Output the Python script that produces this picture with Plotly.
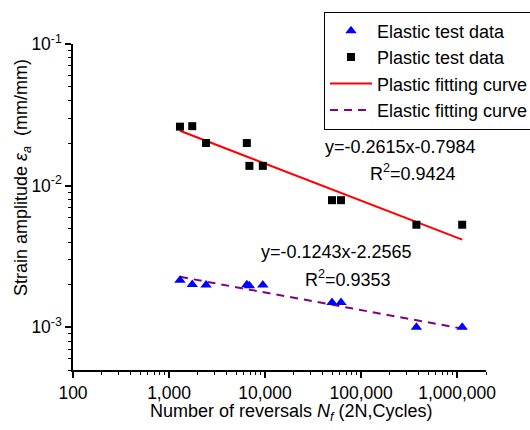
import numpy as np
import plotly.graph_objects as go

# Number of reversals to failure (2N) for each specimen
nf_reversals = [1300, 1745, 2430, 6460, 6870, 9480, 49800, 61800, 377000, 1130000]
# Plastic strain amplitude (mm/mm)
eps_plastic = [0.0261, 0.0263, 0.0200, 0.0200, 0.0138, 0.0138, 0.0079, 0.0079, 0.0053, 0.0053]
# Elastic strain amplitude (mm/mm)
eps_elastic = [0.00215, 0.00201, 0.00199, 0.00200, 0.00197, 0.00199, 0.00150, 0.00150, 0.00100, 0.00100]

# Fitted log-log lines: log10(eps) = slope * log10(2N) + intercept, with R^2
plastic_fit = (-0.2615, -0.7984, 0.9424)
elastic_fit = (-0.1243, -2.2565, 0.9353)

x_tickvals = [100, 1000, 10000, 100000, 1000000]
x_ticktext = ["100", "1,000", "10,000", "100,000", "1,000,000"]
y_tickvals = [0.1, 0.01, 0.001]
y_ticktext = ["10<sup>-1</sup>", "10<sup>-2</sup>", "10<sup>-3</sup>"]

FONT = "Arial, Liberation Sans, sans-serif"


def fit_line(coef):
    slope, intercept, _ = coef
    lx = np.log10([min(nf_reversals), max(nf_reversals)])
    return 10 ** lx, 10 ** (slope * lx + intercept)


fig = go.Figure()

px_, py_ = fit_line(plastic_fit)
fig.add_trace(go.Scatter(x=px_, y=py_, mode="lines", name="Plastic fitting curve",
                         line=dict(color="#ff0000", width=2), legendrank=3))
ex_, ey_ = fit_line(elastic_fit)
fig.add_trace(go.Scatter(x=ex_, y=ey_, mode="lines", name="Elastic fitting curve",
                         line=dict(color="#800080", width=2, dash="8px,6px"), legendrank=4))
fig.add_trace(go.Scatter(x=nf_reversals, y=eps_elastic, mode="markers", name="Elastic test data",
                         marker=dict(symbol="triangle-up", size=10, color="#0000ff"), legendrank=1))
fig.add_trace(go.Scatter(x=nf_reversals, y=eps_plastic, mode="markers", name="Plastic test data",
                         marker=dict(symbol="square", size=8, color="#000000"), legendrank=2))


def eq_text(coef):
    s, b, _ = coef
    return f"y={s:.4f}x{b:+.4f}"


def r2_text(coef):
    return f"R<sup>2</sup>={coef[2]:.4f}"


W, H = 530, 430
L, R, T, B = 73, 44, 44, 60
pw, ph = W - L - R, H - T - B


def to_paper(xp, yp):
    return (xp - L) / pw, (H - B - yp) / ph


# equation labels placed in pixel positions of the figure
labels = [
    (400, 147, eq_text(plastic_fit)),
    (413, 172, r2_text(plastic_fit)),
    (336, 252, eq_text(elastic_fit)),
    (348, 278, r2_text(elastic_fit)),
]

ann = []
for xp, yp, txt in labels:
    xx, yy = to_paper(xp, yp)
    ann.append(dict(x=xx, y=yy, xref="paper", yref="paper", text=txt, showarrow=False,
                    xanchor="center", yanchor="middle", font=dict(size=18, color="#000")))

# axis titles
tx, ty = to_paper(291, 413)
ann.append(dict(x=tx, y=ty, xref="paper", yref="paper", showarrow=False,
                text="Number of reversals <i>N<sub>f</sub></i> (2N,Cycles)",
                xanchor="center", yanchor="middle", font=dict(size=18, color="#000")))
tx, ty = to_paper(22, 178)
ann.append(dict(x=tx, y=ty, xref="paper", yref="paper", showarrow=False, textangle=-90,
                text="Strain amplitude <i>\u03b5<sub>a</sub></i>\u00a0 (mm/mm)",
                xanchor="center", yanchor="middle", font=dict(size=18, color="#000")))

axis_common = dict(
    type="log", showgrid=False, zeroline=False, showline=True, linecolor="#000", linewidth=1.5,
    ticks="outside", ticklen=6, tickwidth=1.5, tickcolor="#000",
    tickfont=dict(size=17.5, color="#000", family=FONT), mirror=False,
    minor=dict(ticks="outside", ticklen=3.5, tickwidth=1, tickcolor="#000", dtick="D1", showgrid=False),
)

fig.update_layout(
    width=W, height=H,
    margin=dict(l=L, r=R, t=T, b=B, autoexpand=False),
    paper_bgcolor="white", plot_bgcolor="white",
    font=dict(family=FONT, color="#000"),
    showlegend=True,
    legend=dict(x=(324 - L) / pw, y=(H - B - 11.5) / ph, xanchor="left", yanchor="top",
                bordercolor="#000", borderwidth=1, bgcolor="rgba(255,255,255,0)",
                font=dict(size=18, color="#000"), itemwidth=42, tracegroupgap=0),
    annotations=ann,
)
fig.update_xaxes(range=[2, np.log10(2e6)], tickvals=x_tickvals, ticktext=x_ticktext, **axis_common)
fig.update_yaxes(range=[np.log10(5e-4), -1], tickvals=y_tickvals, ticktext=y_ticktext, **axis_common)

fig.write_html("out.html")
